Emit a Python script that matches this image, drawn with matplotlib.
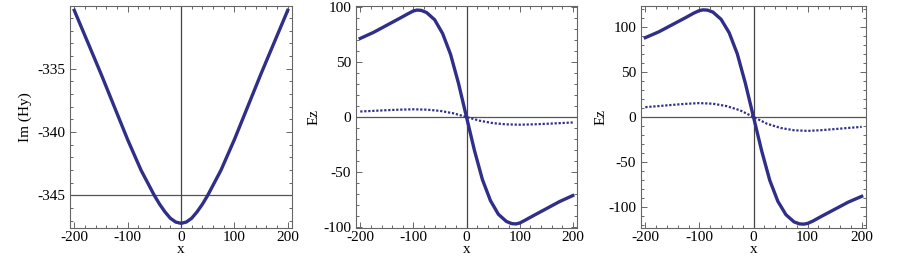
import matplotlib
matplotlib.use("Agg")
import matplotlib.pyplot as plt
from matplotlib.ticker import MultipleLocator

# valores (curvas simetricas / antissimetricas)
x_hy = [-200, -175, -150, -125, -100, -75, -60, -50, -40, -30, -20, -10, 0,
        10, 20, 30, 40, 50, 60, 75, 100, 125, 150, 175, 200]
im_hy = [-330.4, -332.9, -335.4, -338.0, -340.6, -343.0, -344.2, -345.0, -345.7, -346.3, -346.8, -347.1, -347.2,
         -347.1, -346.8, -346.3, -345.7, -345.0, -344.2, -343.0, -340.6, -338.0, -335.4, -332.9, -330.4]

x_ez = [-200, -175, -150, -125, -110, -100, -93, -85, -75, -60, -45, -30, -15, 0,
        15, 30, 45, 60, 75, 85, 93, 100, 110, 125, 150, 175, 200]
ez_a = [71.5, 77, 83.5, 90, 94, 96.5, 97.3, 97, 95, 88.5, 76, 57, 30.5, 0,
        -30.5, -57, -76, -88.5, -95, -97, -97.3, -96.5, -94, -90, -83.5, -77, -71.5]
ez_b = [88.5, 95, 103, 111, 116, 118.7, 119.5, 119.2, 117, 109, 94, 70.5, 37.5, 0,
        -37.5, -70.5, -94, -109, -117, -119.2, -119.5, -118.7, -116, -111, -103, -95, -88.5]

x_dot = [-200, -175, -150, -125, -100, -75, -50, -25, 0, 25, 50, 75, 100, 125, 150, 175, 200]
ez_a_dot = [5.0, 5.6, 6.2, 6.7, 7.0, 6.7, 5.6, 3.4, 0, -3.4, -5.6, -6.7, -7.0, -6.7, -6.2, -5.6, -5.0]
ez_b_dot = [11.0, 12.2, 13.5, 14.7, 15.5, 14.8, 12.2, 7.5, 0, -7.5, -12.2, -14.8, -15.5, -14.7, -13.5, -12.2, -11.0]

cor = '#2f2f8a'
cinza = '#666666'

plt.rcParams['font.family'] = ['Liberation Serif', 'DejaVu Serif']
plt.rcParams['font.size'] = 11
plt.rcParams['axes.unicode_minus'] = False  # o original usa hifen

W, H = 902, 259
fig = plt.figure(figsize=(W / 100, H / 100), dpi=100)


def eixo(left, right, top, bottom):
    return fig.add_axes([left / W, 1 - bottom / H, (right - left) / W, (bottom - top) / H])


def estilo(ax, ymaj, ymin, ylabel, lx):
    ax.xaxis.set_major_locator(MultipleLocator(100))
    ax.xaxis.set_minor_locator(MultipleLocator(20))
    ax.yaxis.set_major_locator(MultipleLocator(ymaj))
    ax.yaxis.set_minor_locator(MultipleLocator(ymin))
    ax.tick_params(which='both', direction='in', top=True, right=True, color=cinza, width=0.7)
    ax.tick_params(axis='x', pad=2.5)
    ax.tick_params(axis='y', pad=3.5)
    ax.tick_params(which='major', length=4)
    ax.tick_params(which='minor', length=2)
    for s in ax.spines.values():
        s.set_color(cinza)
        s.set_linewidth(0.8)
    ax.set_xlabel('x', va='baseline')
    ax.set_ylabel(ylabel, va='center', ha='center')
    ax.xaxis.set_label_coords(0.5, -0.113)
    ax.yaxis.set_label_coords(lx, 0.5)
    ax.set_xlim(-208, 208)


# painel 1
ax1 = eixo(70, 292, 6, 228)
ax1.axhline(-345, color='#555555', lw=0.9)
ax1.axvline(0, color='#444444', lw=0.9)
ax1.plot(x_hy, im_hy, color=cor, lw=2.4)
ax1.set_ylim(-347.57, -330.06)
estilo(ax1, 5, 1, 'Im (Hy)', -0.2)

# painel 2
ax2 = eixo(356, 577, 6, 228)
ax2.axhline(0, color='#555555', lw=0.9)
ax2.axvline(0, color='#444444', lw=0.9)
ax2.plot(x_ez, ez_a, color=cor, lw=2.4)
ax2.plot(x_dot, ez_a_dot, color=cor, lw=1.6, linestyle=(0, (1, 0.8)))
ax2.set_ylim(-101, 101)
estilo(ax2, 50, 10, 'Ez', -0.19)

# painel 3
ax3 = eixo(641, 866, 6, 228)
ax3.axhline(0, color='#555555', lw=0.9)
ax3.axvline(0, color='#444444', lw=0.9)
ax3.plot(x_ez, ez_b, color=cor, lw=2.4)
ax3.plot(x_dot, ez_b_dot, color=cor, lw=1.6, linestyle=(0, (1, 0.8)))
ax3.set_ylim(-123.8, 123.8)
estilo(ax3, 50, 10, 'Ez', -0.176)

fig.savefig('out.png', dpi=100)
